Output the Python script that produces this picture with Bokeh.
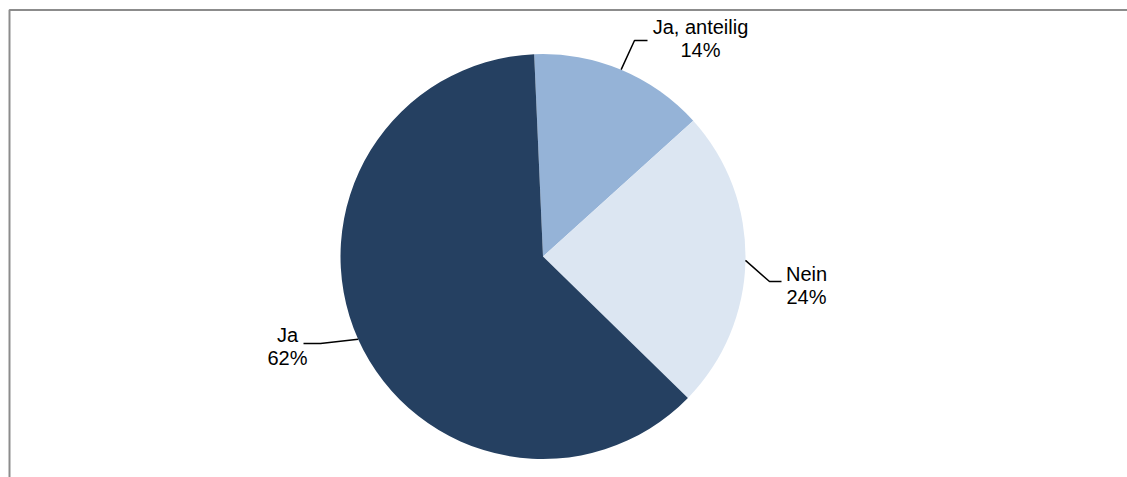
import math
from bokeh.plotting import figure
from bokeh.models import Range1d, ColumnDataSource
from bokeh.core.properties import value
from bokeh.embed import file_html
from bokeh.resources import INLINE

# ---- data ----
categories = ["Ja, anteilig", "Nein", "Ja"]
values = [14, 24, 62]
colors = ["#95B3D7", "#DCE6F2", "#254061"]

# ---- layout (page pixel coords; data y = H - page y) ----
W, H = 1127, 477
def Y(py):
    return H - py

cx, cy, r = 542.5, Y(256), 202.5
offset = math.radians(2.5)  # first slice starts slightly left of 12 o'clock

total = float(sum(values))
starts, ends, mids = [], [], []
cum = 0.0
for v in values:
    a0 = math.pi / 2 + offset - cum / total * 2 * math.pi
    cum += v
    a1 = math.pi / 2 + offset - cum / total * 2 * math.pi
    starts.append(a0)
    ends.append(a1)
    mids.append((a0 + a1) / 2)

p = figure(width=W, height=H, x_range=Range1d(0, W), y_range=Range1d(0, H),
           output_backend="svg", toolbar_location=None,
           x_axis_type=None, y_axis_type=None, min_border=0)
p.outline_line_color = None
p.xgrid.visible = False
p.ygrid.visible = False
p.background_fill_color = "white"
p.border_fill_color = "white"

src = ColumnDataSource(dict(start=starts, end=ends, color=colors, cat=categories))
p.wedge(x=cx, y=cy, radius=r, start_angle="start", end_angle="end",
        direction="clock", fill_color="color", line_color=None, source=src)

# chart-area frame (top and left edges visible, the rest is cropped)
p.line(x=[W + 5, 9, 9], y=[Y(9.5), Y(9.5), -5], line_color="#8C8C8C", line_width=2)

# label layout: elbow point, end point, text center x, first baseline (page coords)
label_layout = [
    dict(elbow=(634, 40), end=(647, 40), tx=700, base=26),
    dict(elbow=(769, 281), end=(781, 281), tx=806, base=273),
    dict(elbow=(320, 343), end=(303, 343), tx=287, base=334),
]

xs, ys = [], []
tx, ty, tt = [], [], []
for i, (cat, v) in enumerate(zip(categories, values)):
    L = label_layout[i]
    sx = cx + r * math.cos(mids[i])
    sy = cy + r * math.sin(mids[i])
    xs.append([sx, L["elbow"][0], L["end"][0]])
    ys.append([sy, Y(L["elbow"][1]), Y(L["end"][1])])
    tx += [L["tx"], L["tx"]]
    ty += [Y(L["base"]), Y(L["base"] + 23)]
    tt += [cat, f"{v}%"]

p.multi_line(xs=xs, ys=ys, line_color="black", line_width=1.5)
p.text(x=tx, y=ty, text=tt, text_font=value("Liberation Sans"), text_font_size="20px",
       text_align="center", text_baseline="alphabetic", text_color="black")

open("out.html", "w").write(file_html(p, INLINE))
